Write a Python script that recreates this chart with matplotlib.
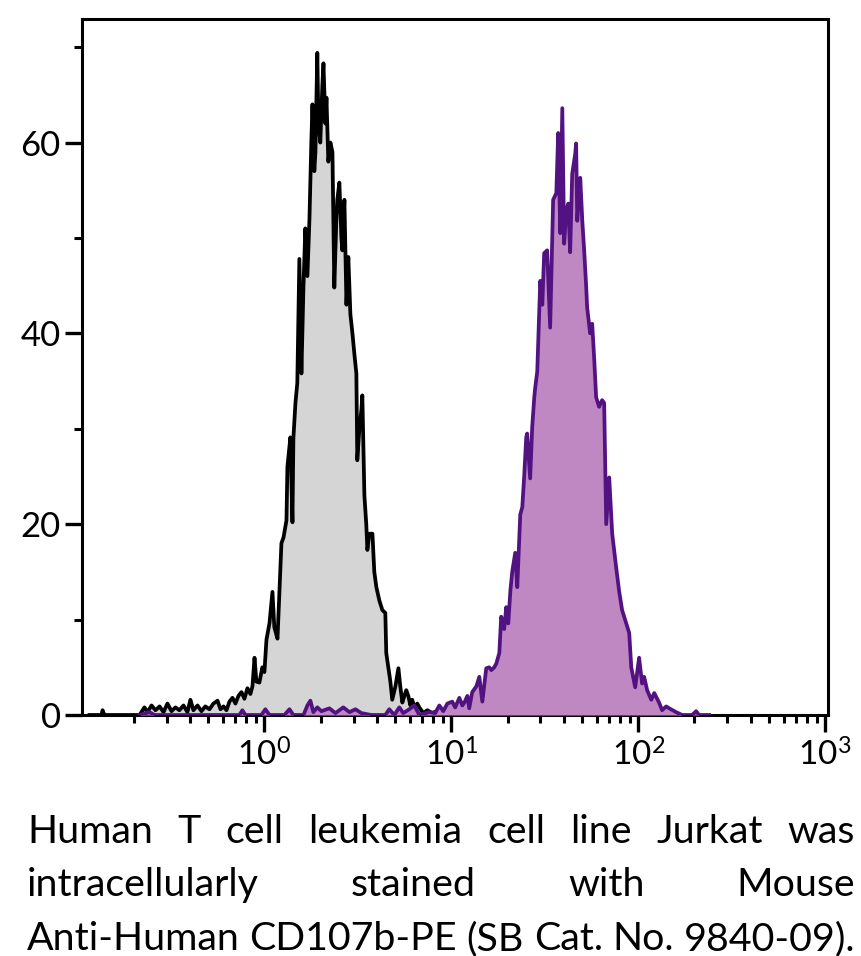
import numpy as np
import matplotlib
matplotlib.use("Agg")
import matplotlib.pyplot as plt
from matplotlib.ticker import FixedLocator, NullFormatter

plt.rcParams['font.family'] = ['Lato', 'DejaVu Sans']
plt.rcParams['mathtext.fontset'] = 'custom'
plt.rcParams['mathtext.rm'] = 'Lato'
plt.rcParams['mathtext.it'] = 'Lato'

# ---- data (log10 of fluorescence intensity, event count) ----
black_log10 = [-0.936, -0.872, -0.866, -0.856, -0.668, -0.642, -0.626, -0.604, -0.583, -0.561,
               -0.540, -0.519, -0.497, -0.476, -0.455, -0.433, -0.412, -0.396, -0.380, -0.358,
               -0.337, -0.316, -0.294, -0.273, -0.251, -0.235, -0.219, -0.203, -0.187, -0.171,
               -0.155, -0.139, -0.123, -0.107, -0.091, -0.075, -0.064, -0.053, -0.043, -0.027,
               -0.011, 0.000, 0.011, 0.027, 0.043, 0.053, 0.070, 0.091, 0.102, 0.118,
               0.123, 0.139, 0.150, 0.155, 0.166, 0.176, 0.187, 0.198, 0.209, 0.219,
               0.230, 0.241, 0.251, 0.257, 0.267, 0.273, 0.283, 0.289, 0.299, 0.310,
               0.316, 0.326, 0.332, 0.342, 0.353, 0.364, 0.374, 0.385, 0.390, 0.401,
               0.412, 0.417, 0.428, 0.439, 0.449, 0.460, 0.471, 0.481, 0.492, 0.497,
               0.508, 0.519, 0.524, 0.535, 0.545, 0.551, 0.561, 0.578, 0.588, 0.599,
               0.615, 0.631, 0.647, 0.652, 0.663, 0.674, 0.684, 0.701, 0.717, 0.727,
               0.738, 0.749, 0.759, 0.770, 0.781, 0.791, 0.802, 0.818, 0.829, 0.850,
               0.872, 0.898, 0.920, 0.936]
black_counts = [0, 0, 0.5, 0, 0, 0.8, 0.3, 1.0, 0.5, 0.9,
                0.3, 1.2, 0.4, 0.8, 0.5, 1.0, 0.3, 1.6, 0.5, 1.0,
                0.4, 0.9, 0.6, 1.2, 1.5, 0.6, 0.9, 0.5, 1.4, 1.8,
                1.2, 2.0, 2.4, 1.7, 2.8, 2.2, 3.0, 6.0, 3.5, 3.4,
                5.0, 4.5, 7.9, 9.6, 12.9, 9.2, 8.0, 18.0, 18.6, 20.4,
                26.0, 29.1, 20.2, 29.0, 32.7, 34.8, 47.8, 35.8, 45.0, 51.0,
                46.0, 52.0, 60.0, 64.0, 57.0, 59.0, 69.4, 62.0, 60.0, 66.0,
                68.3, 62.0, 64.7, 58.0, 60.0, 59.0, 44.8, 52.0, 54.0, 55.8,
                50.0, 48.7, 54.0, 43.0, 48.0, 42.0, 40.0, 37.9, 35.8, 26.7,
                30.0, 32.0, 33.5, 23.0, 20.0, 17.3, 19.0, 19.0, 15.0, 13.4,
                12.0, 11.0, 10.7, 6.5, 5.0, 3.5, 1.6, 3.0, 4.9, 3.0,
                1.3, 2.0, 2.6, 2.0, 1.0, 1.6, 0.8, 1.2, 0.8, 0.2,
                0.5, 0.2, 0.4, 0]

purple_log10 = [-0.668, -0.615, -0.588, -0.134, -0.118, -0.102, -0.016, 0.005, 0.027, 0.107,
                0.134, 0.155, 0.209, 0.230, 0.246, 0.262, 0.283, 0.305, 0.348, 0.380,
                0.422, 0.455, 0.487, 0.519, 0.572, 0.647, 0.668, 0.695, 0.722, 0.743,
                0.775, 0.802, 0.829, 0.882, 0.914, 0.936, 0.957, 0.979, 1.005, 1.021,
                1.043, 1.059, 1.070, 1.086, 1.096, 1.112, 1.134, 1.150, 1.166, 1.187,
                1.203, 1.214, 1.230, 1.241, 1.257, 1.267, 1.283, 1.294, 1.305, 1.316,
                1.326, 1.342, 1.353, 1.369, 1.380, 1.390, 1.401, 1.406, 1.422, 1.433,
                1.444, 1.449, 1.460, 1.476, 1.487, 1.497, 1.513, 1.529, 1.545, 1.562,
                1.572, 1.583, 1.594, 1.604, 1.615, 1.626, 1.636, 1.647, 1.663, 1.668,
                1.674, 1.690, 1.701, 1.711, 1.722, 1.727, 1.743, 1.754, 1.765, 1.775,
                1.791, 1.807, 1.818, 1.829, 1.845, 1.861, 1.882, 1.898, 1.914, 1.936,
                1.952, 1.963, 1.984, 2.005, 2.021, 2.032, 2.048, 2.070, 2.086, 2.112,
                2.128, 2.150, 2.166, 2.203, 2.235, 2.289, 2.310, 2.326, 2.380]
purple_counts = [0, 0.3, 0, 0, 0.5, 0, 0, 0.6, 0, 0,
                 0.6, 0, 0, 1.0, 1.5, 0.3, 0.8, 0.4, 0.7, 0.2,
                 0.8, 0.3, 0.6, 0.2, 0, 0, 0.6, 0, 0.8, 0.2,
                 0.6, 1.0, 0, 0.3, 0.2, 1.0, 0.4, 1.2, 1.4, 0.8,
                 1.8, 1.0, 1.3, 2.0, 0.7, 2.4, 3.0, 4.0, 1.4, 4.9,
                 5.0, 4.7, 5.0, 5.4, 6.5, 10.3, 9.0, 11.3, 9.6, 13.0,
                 15.0, 17.0, 13.4, 21.0, 21.8, 25.0, 29.1, 29.5, 24.8, 30.2,
                 33.3, 34.3, 36.0, 45.5, 43.0, 48.4, 48.7, 40.6, 54.0, 54.7,
                 61.0, 50.5, 63.6, 49.4, 52.9, 53.6, 48.5, 56.7, 58.8, 59.9,
                 51.8, 56.3, 51.8, 48.7, 44.8, 42.7, 40.0, 41.0, 37.2, 33.3,
                 32.3, 33.0, 32.7, 20.0, 24.9, 19.0, 15.5, 13.0, 11.0, 9.6,
                 8.6, 5.0, 2.9, 6.0, 3.3, 4.0, 2.6, 1.6, 2.3, 1.3,
                 0.5, 0.9, 0.7, 0.3, 0, 0, 0.4, 0, 0]

x_major_ticks = [1, 10, 100, 1000]
x_major_labels = [r'$\mathregular{10^{0}}$', r'$\mathregular{10^{1}}$',
                  r'$\mathregular{10^{2}}$', r'$\mathregular{10^{3}}$']
y_major_ticks = [0, 20, 40, 60]
y_minor_ticks = [10, 30, 50, 70]

caption_lines = ["Human T cell leukemia cell line Jurkat was",
                 "intracellularly stained with Mouse",
                 "Anti-Human CD107b-PE (SB Cat. No. 9840-09)."]

# ---- figure ----
W, H = 862, 956
fig = plt.figure(figsize=(W / 100, H / 100), dpi=100)
ax = fig.add_axes([81.5 / W, 1 - 715 / H, 746.5 / W, 696.5 / H])

bx = 10 ** np.array(black_log10)
px = 10 ** np.array(purple_log10)
ax.fill_between(bx, black_counts, 0, color='#d5d5d5', lw=0, zorder=1)
ax.plot(bx, black_counts, color='black', lw=2.7, zorder=2)
ax.fill_between(px, purple_counts, 0, color='#bf88c2', lw=0, zorder=3)
ax.plot(px, purple_counts, color='#531282', lw=2.7, zorder=4)

ax.set_xscale('log')
ax.set_xlim(0.105, 1037)
ax.set_ylim(0, 73)

ax.xaxis.set_major_locator(FixedLocator(x_major_ticks))
ax.set_xticklabels(x_major_labels)
minor = [m * 10.0 ** e for e in range(-1, 3) for m in range(2, 10)]
ax.xaxis.set_minor_locator(FixedLocator(minor))
ax.xaxis.set_minor_formatter(NullFormatter())
ax.set_yticks(y_major_ticks)
ax.set_yticks(y_minor_ticks, minor=True)

for s in ax.spines.values():
    s.set_linewidth(2.2)
ax.tick_params(which='major', length=12, width=2.4, direction='out', labelsize=25, pad=3)
ax.tick_params(which='minor', length=5.5, width=2.2, direction='out')
ax.tick_params(axis='x', which='major', pad=5, labelsize=24)

# ---- justified caption ----
left_px, right_px = 27, 855
baselines = [843, 896, 950]
fig.canvas.draw()
renderer = fig.canvas.get_renderer()
fs = 31
probe = fig.text(0, 0, caption_lines[2], fontsize=fs)
wprobe = probe.get_window_extent(renderer).width
probe.remove()
fs = min(fs, fs * (right_px - left_px) / wprobe)
for line, base in zip(caption_lines, baselines):
    words = line.split(' ')
    texts = [fig.text(0, 1 - base / H, w, fontsize=fs, va='baseline', ha='left') for w in words]
    widths = [t.get_window_extent(renderer).width for t in texts]
    gap = (right_px - left_px - sum(widths)) / (len(words) - 1)
    x = left_px
    for t, w in zip(texts, widths):
        t.set_x(x / W)
        x += w + gap

fig.savefig('out.png', dpi=100)
